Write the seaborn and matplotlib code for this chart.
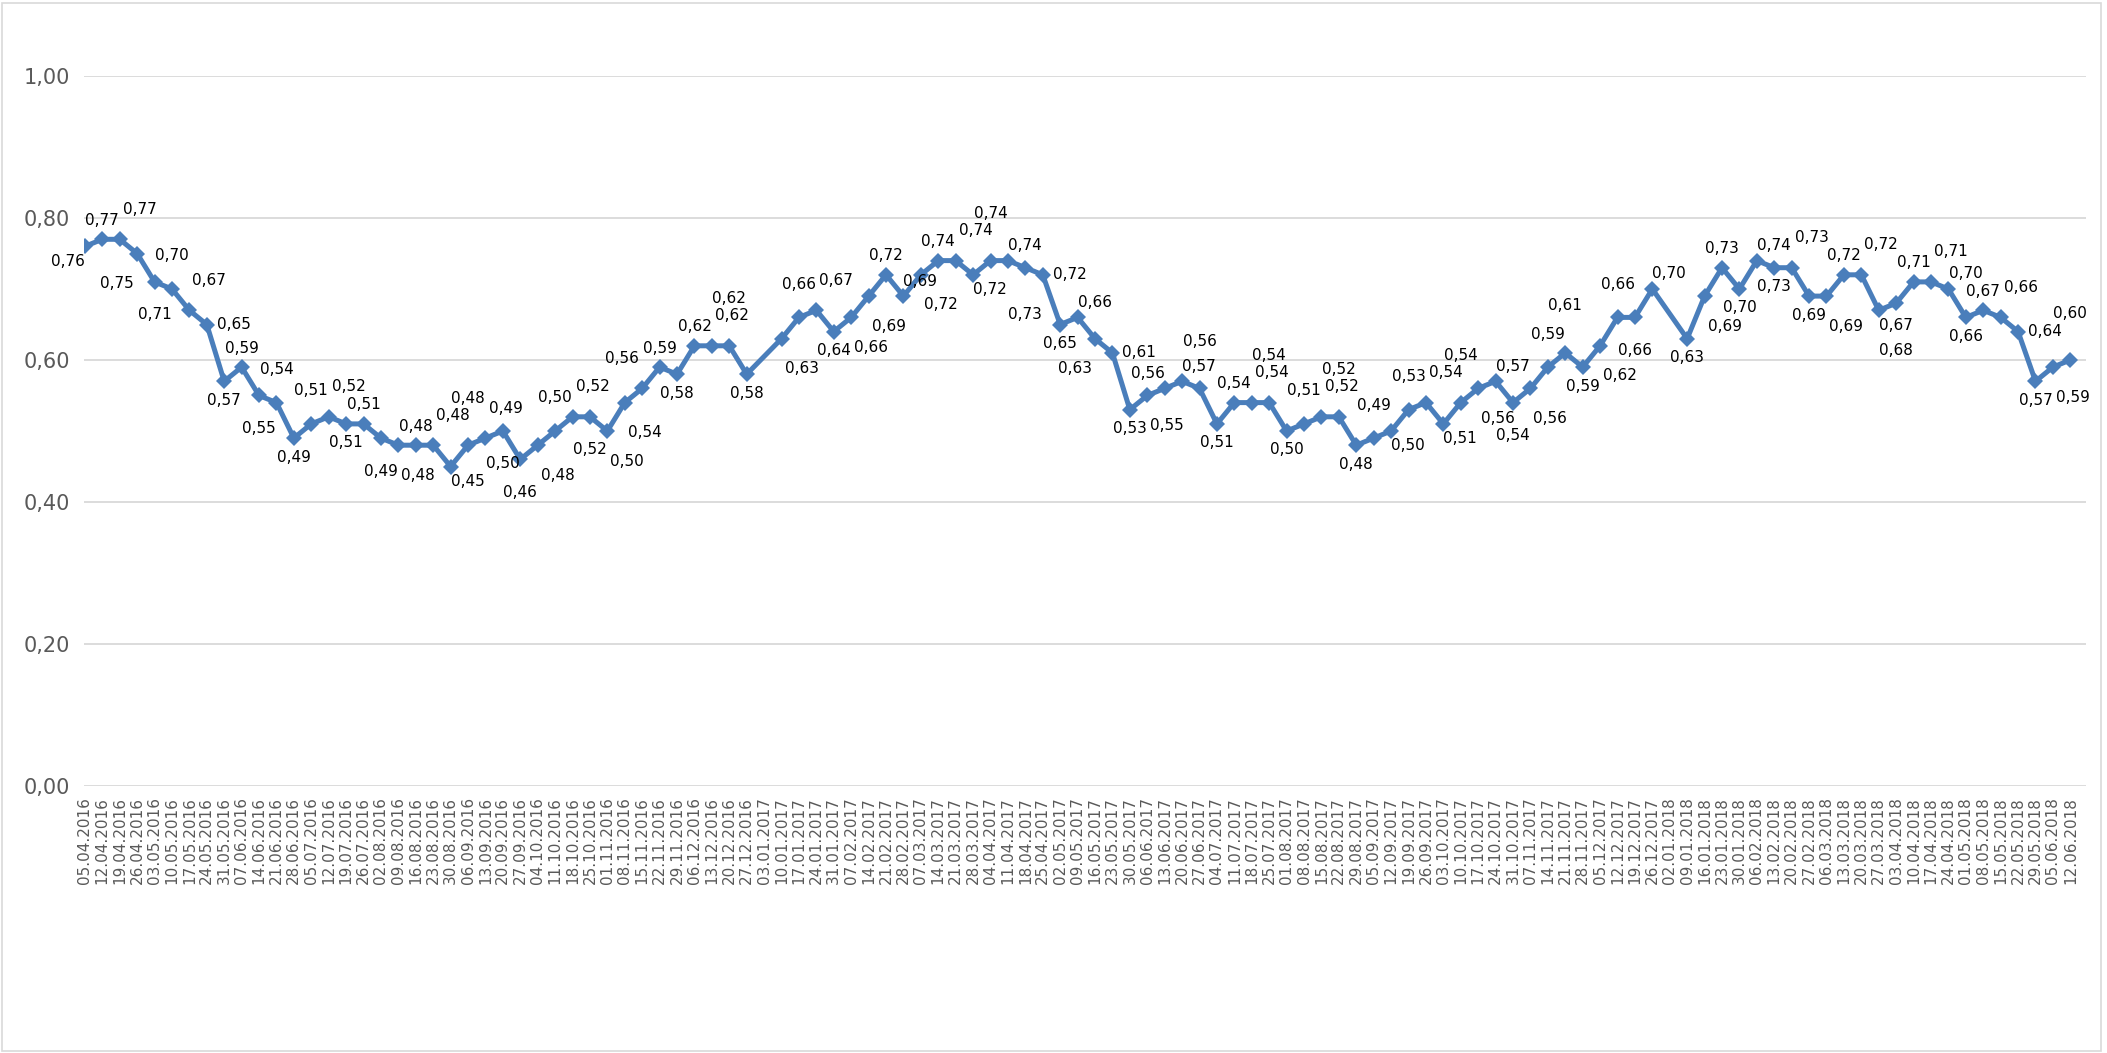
import numpy as np
import pandas as pd
import seaborn as sns
import matplotlib.pyplot as plt
from matplotlib.patches import Rectangle

# weekly categories on the date axis (two holiday weeks have no value)
weeks = pd.date_range('2016-04-05', '2018-06-12', freq='7D')
week_labels = [d.strftime('%d.%m.%Y') for d in weeks]

values = [
    0.76, 0.77, 0.77, 0.75, 0.71, 0.70, 0.67, 0.65, 0.57, 0.59,
    0.55, 0.54, 0.49, 0.51, 0.52, 0.51, 0.51, 0.49, 0.48, 0.48,
    0.48, 0.45, 0.48, 0.49, 0.50, 0.46, 0.48, 0.50, 0.52, 0.52,
    0.50, 0.54, 0.56, 0.59, 0.58, 0.62, 0.62, 0.62, 0.58, np.nan,
    0.63, 0.66, 0.67, 0.64, 0.66, 0.69, 0.72, 0.69, 0.72, 0.74,
    0.74, 0.72, 0.74, 0.74, 0.73, 0.72, 0.65, 0.66, 0.63, 0.61,
    0.53, 0.55, 0.56, 0.57, 0.56, 0.51, 0.54, 0.54, 0.54, 0.50,
    0.51, 0.52, 0.52, 0.48, 0.49, 0.50, 0.53, 0.54, 0.51, 0.54,
    0.56, 0.57, 0.54, 0.56, 0.59, 0.61, 0.59, 0.62, 0.66, 0.66,
    0.70, np.nan, 0.63, 0.69, 0.73, 0.70, 0.74, 0.73, 0.73, 0.69,
    0.69, 0.72, 0.72, 0.67, 0.68, 0.71, 0.71, 0.70, 0.66, 0.67,
    0.66, 0.64, 0.57, 0.59, 0.60,
]

y_ticks = [0.0, 0.2, 0.4, 0.6, 0.8, 1.0]

BLUE = '#4A7EBB'
GREY = '#595959'

df = pd.DataFrame({'pos': np.arange(len(weeks)), 'week': week_labels, 'value': values})
data = df.dropna().reset_index(drop=True)

sns.set_theme(style='white')
plt.rcParams['font.family'] = ['DejaVu Sans']

W, H = 2107, 1053
fig = plt.figure(figsize=(W / 100, H / 100), dpi=100)
ax = fig.add_axes([84 / W, 1 - 786 / H, (2086 - 84) / W, (786 - 76) / H])

sns.lineplot(data=data, x='pos', y='value', ax=ax, color=BLUE, linewidth=3.6,
             marker='D', markersize=8.5, markeredgewidth=0, markeredgecolor=BLUE,
             markerfacecolor=BLUE, zorder=3)

ax.set_ylim(0, 1)
ax.set_xlim(-0.05, len(weeks) - 1 + 0.9)

# measure one label to get the real box size
renderer = fig.canvas.get_renderer()
probe = ax.text(0, 0, '0,00', fontsize=11, ha='center', va='center')
bb = probe.get_window_extent(renderer)
probe.remove()
LW, LH = bb.width + 3, bb.height + 1

# data labels: try spots around each point, keep the one that is free
pts = ax.transData.transform(np.c_[data['pos'], data['value']])
samples = np.vstack([a + t * (b - a) for a, b in zip(pts[:-1], pts[1:])
                     for t in np.linspace(0, 1, 30)])
x_lo, x_hi = ax.transAxes.transform([(0, 0), (1, 0)])[:, 0]
spots = {
    'up': (0, 19), 'down': (0, -19),
    'upl': (-17, 15), 'upr': (17, 15),
    'dnl': (-17, -15), 'dnr': (17, -15),
    'left': (-27, 0), 'right': (27, 0),
    'up2': (0, 33), 'down2': (0, -33),
    'upl2': (-20, 30), 'upr2': (20, 30),
    'dnl2': (-20, -30), 'dnr2': (20, -30),
    'up3': (0, 47), 'down3': (0, -47),
}
placed = []
vals = data['value'].tolist()
for i, row in data.iterrows():
    v = row['value']
    prev = vals[i - 1] if i > 0 else vals[i + 1]
    nxt = vals[i + 1] if i < len(vals) - 1 else vals[i - 1]
    if i == 0:
        order = ['dnl', 'down', 'left', 'upl']
    elif v >= max(prev, nxt):
        order = ['up', 'upl', 'upr', 'up2', 'upl2', 'upr2', 'down', 'dnl', 'dnr', 'down2',
                 'up3']
    elif v <= min(prev, nxt):
        order = ['down', 'dnl', 'dnr', 'down2', 'dnl2', 'dnr2', 'up', 'upl', 'upr', 'up2',
                 'down3']
    elif prev > v:
        order = ['upr', 'right', 'dnl', 'left', 'up', 'down', 'up2', 'down2',
                 'upr2', 'dnl2', 'upl2', 'dnr2', 'up3', 'down3']
    else:
        order = ['upl', 'left', 'dnr', 'right', 'up', 'down', 'up2', 'down2',
                 'upl2', 'dnr2', 'upr2', 'dnl2', 'up3', 'down3']
    best, best_score = None, None
    for k, name in enumerate(order):
        dx, dy = spots[name]
        cx, cy = pts[i][0] + dx, pts[i][1] + dy
        box = (cx - LW / 2, cy - LH / 2, cx + LW / 2, cy + LH / 2)
        hits = sum(1 for b in placed
                   if not (box[2] < b[0] or box[0] > b[2] or box[3] < b[1] or box[1] > b[3]))
        m = 5
        on_line = np.sum((samples[:, 0] > box[0] - m) & (samples[:, 0] < box[2] + m) &
                         (samples[:, 1] > box[1] - m) & (samples[:, 1] < box[3] + m))
        outside = box[2] > x_hi + 8 or box[0] < x_lo - 40
        score = hits * 1e6 + outside * 1e5 + on_line * 10 + k * 3
        if best_score is None or score < best_score:
            best, best_score = (name, box), score
    name, box = best
    placed.append(box)
    dx, dy = spots[name]
    ax.annotate(f"{v:.2f}".replace('.', ','), (row['pos'], v), xytext=(dx, dy),
                textcoords='offset pixels', ha='center', va='center', fontsize=11,
                color='black', zorder=4)

ax.set_yticks(y_ticks)
ax.set_yticklabels([f"{t:.2f}".replace('.', ',') for t in y_ticks], fontsize=15, color=GREY)
ax.set_xticks(df['pos'])
ax.set_xticklabels(week_labels, rotation=90, fontsize=11, color=GREY)
ax.tick_params(axis='both', length=0)
ax.tick_params(axis='x', pad=8)
ax.tick_params(axis='y', pad=10)
ax.set_xlabel('')
ax.set_ylabel('')
ax.yaxis.grid(True, color='#D9D9D9', linewidth=1.3)
ax.xaxis.grid(False)
for s in ax.spines.values():
    s.set_visible(False)

fig.patches.append(Rectangle((0.001, 0.002), 0.996, 0.995, transform=fig.transFigure,
                             fill=False, edgecolor='#D9D9D9', linewidth=1.2))

fig.savefig('out.png', dpi=100)
